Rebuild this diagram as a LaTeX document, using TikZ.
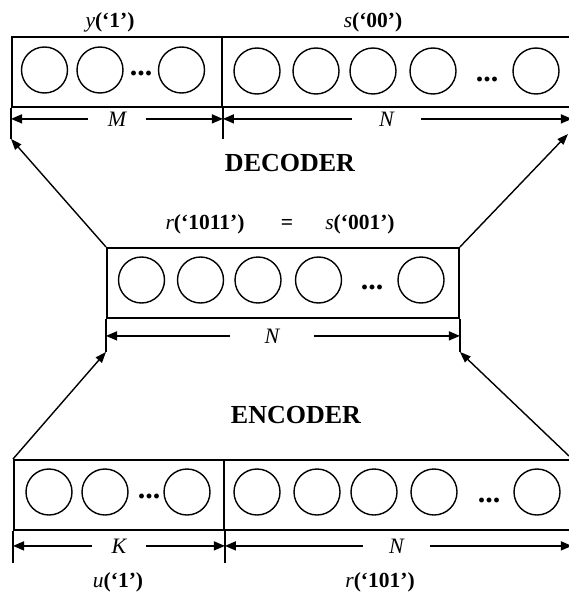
\documentclass[tikz,border=0pt]{standalone}
\usepackage{fontspec}
\setmainfont{Liberation Serif}
\usetikzlibrary{arrows.meta,positioning}

\tikzset{
  layer/.style={draw, line width=1.9pt, rectangle, inner sep=0pt, anchor=north west, minimum height=70pt},
  neuron/.style={draw, circle, line width=1.4pt, minimum size=46pt, inner sep=0pt},
  ellip/.style={inner sep=0pt, font=\fontsize{30}{30}\selectfont\bfseries},
  ext/.style={line width=1.5pt},
  dimline/.style={line width=1.5pt, {Triangle[length=11pt,width=9pt]}-{Triangle[length=11pt,width=9pt]}},
  dimlab/.style={fill=white, inner ysep=1pt, inner xsep=#1, font=\fontsize{22}{22}\selectfont\itshape},
  dimlab/.default=25pt,
  lab/.style={font=\fontsize{21.5}{22}\selectfont},
  stage/.style={font=\fontsize{26}{26}\selectfont\bfseries},
  flow/.style={line width=1.4pt, -{Triangle[length=11pt,width=8pt]}},
}

\begin{document}
\begin{tikzpicture}[x=1pt,y=-1pt]
    \useasboundingbox (0,0) rectangle (569,604);

    % decoder output layer
    \node[layer, minimum width=210pt] (yl) at (11,36) {};
    \node[layer, minimum width=349pt] (sl) at (221,36) {};
    \foreach \x/\n in {44.5/1, 100/2, 181.5/3}
        \node[neuron] (y\n) at (\x,70) {};
    \node[ellip] (yd) at (141,73) {...};
    \foreach \x/\n in {257/1, 316/2, 373/3, 433/4, 536/5}
        \node[neuron] (s\n) at (\x,71) {};
    \node[ellip] (sd) at (487,79) {...};
    \draw[ext] (yl.south west) -- ++(0,31) coordinate (ylb);
    \draw[ext] (yl.south east) -- ++(0,31);
    \draw[dimline] ([yshift=-11pt]yl.south west) -- ([yshift=-11pt]yl.south east)
        node[midway, dimlab=20pt] (M) {M};
    \draw[dimline] ([yshift=-11pt]yl.south east) -- ([yshift=-11pt]sl.south east)
        node[midway, xshift=-11pt, dimlab=27pt] (Ntop) {N};
    \node[lab] (ylab) at (110,22) {\textit{y}\textbf{(`1')}};
    \node[lab] (slab) at (373,22) {\textit{s}\textbf{(`00')}};

    \node[stage] (dec) at (290,163) {DECODER};

    % code word layer
    \node[layer, minimum width=352pt] (rl) at (106,247) {};
    \foreach \x/\n in {141.5/1, 200.5/2, 258/3, 318.5/4, 421/5}
        \node[neuron] (r\n) at (\x,280) {};
    \node[ellip] (rd) at (372,287) {...};
    \draw[ext] (rl.south west) -- ++(0,33) coordinate (rlb);
    \draw[ext] (rl.south east) -- ++(0,33) coordinate (rrb);
    \draw[dimline] ([yshift=-17pt]rl.south west) -- ([yshift=-17pt]rl.south east)
        node[midway, xshift=-11pt, dimlab=35pt] (Nmid) {N};
    \node[lab] (rlab) at (205,224) {\textit{r}\textbf{(`1011')}};
    \node[lab] (eq) at (287,224) {\textbf{=}};
    \node[lab] (s2lab) at (360,224) {\textit{s}\textbf{(`001')}};

    \node[stage] (enc) at (296,415) {ENCODER};

    % encoder input layer
    \node[layer, minimum width=210pt] (ul) at (13,459) {};
    \node[layer, minimum width=347pt] (cl) at (223,459) {};
    \foreach \x/\n in {49/1, 105/2, 187/3}
        \node[neuron] (u\n) at (\x,492) {};
    \node[ellip] (ud) at (149,496) {...};
    \foreach \x/\n in {257/1, 317/2, 374/3, 434/4, 537/5}
        \node[neuron] (c\n) at (\x,492) {};
    \node[ellip] (cd) at (489,500) {...};
    \draw[ext] (ul.south west) -- ++(0,32);
    \draw[ext] (ul.south east) -- ++(0,32);
    \draw[dimline] ([yshift=-15pt]ul.south west) -- ([yshift=-15pt]ul.south east)
        node[midway, dimlab=20pt] (K) {K};
    \draw[dimline] ([yshift=-15pt]ul.south east) -- ([yshift=-15pt]cl.south east)
        node[midway, xshift=-2pt, dimlab=26pt] (Nbot) {N};
    \node[lab] (ulab) at (118,582) {\textit{u}\textbf{(`1')}};
    \node[lab] (clab) at (380,582) {\textit{r}\textbf{(`101')}};

    % connectors between layers
    \coordinate (tr) at (568,134);
    \coordinate (br) at (569,456);
    \draw[flow] (rl.north west) -- (ylb);
    \draw[flow] (rl.north east) -- (tr);
    \draw[flow] (ul.north west) -- (rlb);
    \draw[flow] (br) -- (rrb);
\end{tikzpicture}
\end{document}
